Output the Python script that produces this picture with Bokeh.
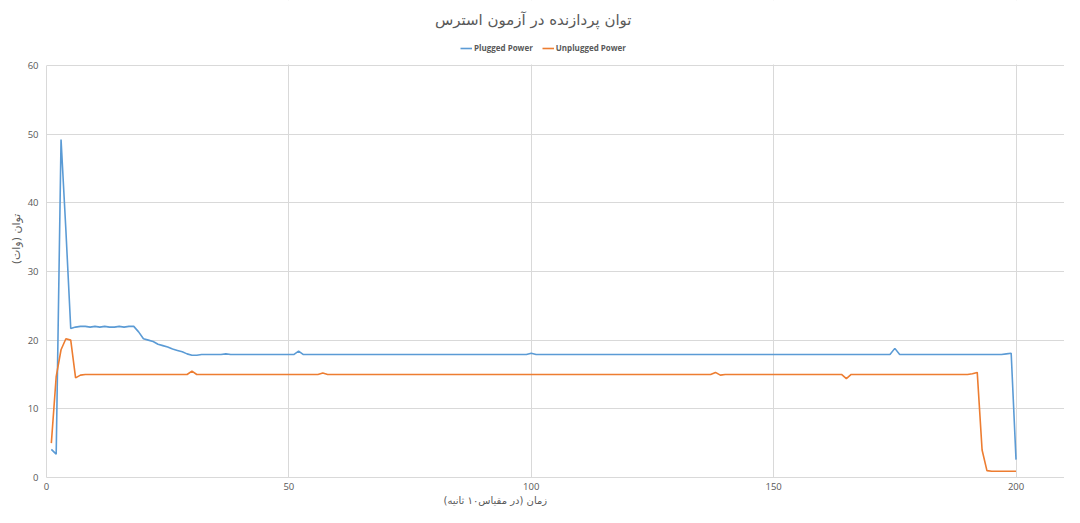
from bokeh.plotting import figure
from bokeh.models import (Range1d, FixedTicker, Legend, LegendItem, Title,
                          Label, BoxAnnotation)
from bokeh.embed import file_html
from bokeh.resources import INLINE

# ---- data ----
time_index = list(range(1, 201))

plugged_power = [
    4.1, 3.4, 49.2, 36.0, 21.7, 21.9, 22.0, 22.0, 21.9, 22.0,
    21.9, 22.0, 21.9, 21.9, 22.0, 21.9, 22.0, 22.0, 21.2, 20.2,
    20.0, 19.8, 19.4, 19.2, 19.0, 18.7, 18.5, 18.3, 18.0, 17.8,
    17.8, 17.9, 17.9, 17.9, 17.9, 17.9, 18.0, 17.9, 17.9, 17.9,
    17.9, 17.9, 17.9, 17.9, 17.9, 17.9, 17.9, 17.9, 17.9, 17.9,
    17.9, 18.4, 17.9, 17.9, 17.9, 17.9, 17.9, 17.9, 17.9, 17.9,
    17.9, 17.9, 17.9, 17.9, 17.9, 17.9, 17.9, 17.9, 17.9, 17.9,
    17.9, 17.9, 17.9, 17.9, 17.9, 17.9, 17.9, 17.9, 17.9, 17.9,
    17.9, 17.9, 17.9, 17.9, 17.9, 17.9, 17.9, 17.9, 17.9, 17.9,
    17.9, 17.9, 17.9, 17.9, 17.9, 17.9, 17.9, 17.9, 17.9, 18.1,
    17.9, 17.9, 17.9, 17.9, 17.9, 17.9, 17.9, 17.9, 17.9, 17.9,
    17.9, 17.9, 17.9, 17.9, 17.9, 17.9, 17.9, 17.9, 17.9, 17.9,
    17.9, 17.9, 17.9, 17.9, 17.9, 17.9, 17.9, 17.9, 17.9, 17.9,
    17.9, 17.9, 17.9, 17.9, 17.9, 17.9, 17.9, 17.9, 17.9, 17.9,
    17.9, 17.9, 17.9, 17.9, 17.9, 17.9, 17.9, 17.9, 17.9, 17.9,
    17.9, 17.9, 17.9, 17.9, 17.9, 17.9, 17.9, 17.9, 17.9, 17.9,
    17.9, 17.9, 17.9, 17.9, 17.9, 17.9, 17.9, 17.9, 17.9, 17.9,
    17.9, 17.9, 17.9, 17.9, 18.8, 17.9, 17.9, 17.9, 17.9, 17.9,
    17.9, 17.9, 17.9, 17.9, 17.9, 17.9, 17.9, 17.9, 17.9, 17.9,
    17.9, 17.9, 17.9, 17.9, 17.9, 17.9, 17.9, 18.0, 18.1, 2.6,
]

unplugged_power = [
    5.0, 14.7, 18.6, 20.2, 20.0, 14.5, 14.9, 15.0, 15.0, 15.0,
    15.0, 15.0, 15.0, 15.0, 15.0, 15.0, 15.0, 15.0, 15.0, 15.0,
    15.0, 15.0, 15.0, 15.0, 15.0, 15.0, 15.0, 15.0, 15.0, 15.5,
    15.0, 15.0, 15.0, 15.0, 15.0, 15.0, 15.0, 15.0, 15.0, 15.0,
    15.0, 15.0, 15.0, 15.0, 15.0, 15.0, 15.0, 15.0, 15.0, 15.0,
    15.0, 15.0, 15.0, 15.0, 15.0, 15.0, 15.2, 15.0, 15.0, 15.0,
    15.0, 15.0, 15.0, 15.0, 15.0, 15.0, 15.0, 15.0, 15.0, 15.0,
    15.0, 15.0, 15.0, 15.0, 15.0, 15.0, 15.0, 15.0, 15.0, 15.0,
    15.0, 15.0, 15.0, 15.0, 15.0, 15.0, 15.0, 15.0, 15.0, 15.0,
    15.0, 15.0, 15.0, 15.0, 15.0, 15.0, 15.0, 15.0, 15.0, 15.0,
    15.0, 15.0, 15.0, 15.0, 15.0, 15.0, 15.0, 15.0, 15.0, 15.0,
    15.0, 15.0, 15.0, 15.0, 15.0, 15.0, 15.0, 15.0, 15.0, 15.0,
    15.0, 15.0, 15.0, 15.0, 15.0, 15.0, 15.0, 15.0, 15.0, 15.0,
    15.0, 15.0, 15.0, 15.0, 15.0, 15.0, 15.0, 15.3, 14.9, 15.0,
    15.0, 15.0, 15.0, 15.0, 15.0, 15.0, 15.0, 15.0, 15.0, 15.0,
    15.0, 15.0, 15.0, 15.0, 15.0, 15.0, 15.0, 15.0, 15.0, 15.0,
    15.0, 15.0, 15.0, 15.0, 14.4, 15.0, 15.0, 15.0, 15.0, 15.0,
    15.0, 15.0, 15.0, 15.0, 15.0, 15.0, 15.0, 15.0, 15.0, 15.0,
    15.0, 15.0, 15.0, 15.0, 15.0, 15.0, 15.0, 15.0, 15.0, 15.0,
    15.1, 15.3, 4.0, 1.0, 0.9, 0.9, 0.9, 0.9, 0.9, 0.9,
]

x_ticks = [0, 50, 100, 150, 200]
y_ticks = [0, 10, 20, 30, 40, 50, 60]
series_names = ["Plugged Power", "Unplugged Power"]
series_colors = ["#5B9BD5", "#ED7D31"]

title_text = "توان پردازنده در آزمون استرس"
x_label = "زمان (در مقیاس۱۰ ثانیه)"
y_label = "توان (وات)"

TEXT = "#595959"
GRID = "#D9D9D9"
FA_FONT = "DejaVu Sans"
LAT_FONT = "Open Sans"

# the frame reaches the top of the figure so that the title and legend
# can sit above the 0-60 value area
Y_TOP = 69.45

p = figure(
    width=1064, height=507,
    output_backend="svg", toolbar_location=None,
    x_range=Range1d(0, 210), y_range=Range1d(0, Y_TOP),
    min_border_left=46, min_border_right=0,
    min_border_top=0, min_border_bottom=30,
)
p.outline_line_color = None
p.background_fill_color = "white"
p.border_fill_color = "white"

# grids
p.xgrid.ticker = FixedTicker(ticks=x_ticks)
p.ygrid.ticker = FixedTicker(ticks=y_ticks)
p.xgrid.grid_line_color = GRID
p.ygrid.grid_line_color = GRID

# hide the vertical grid lines above the top value tick
p.add_layout(BoxAnnotation(bottom=y_ticks[-1] + 0.12, fill_color="white",
                           fill_alpha=1.0, line_alpha=0, level="underlay"))

r1 = p.line(time_index, plugged_power, line_color=series_colors[0], line_width=1.6)
r2 = p.line(time_index, unplugged_power, line_color=series_colors[1], line_width=1.6)

# axes
for ax in (p.xaxis[0], p.yaxis[0]):
    ax.axis_line_color = GRID
    ax.major_tick_line_color = None
    ax.minor_tick_line_color = None
    ax.major_label_text_font = LAT_FONT
    ax.major_label_text_font_size = "9.5px"
    ax.major_label_text_color = TEXT
    ax.major_tick_out = 0
    ax.major_tick_in = 0

p.xaxis.ticker = FixedTicker(ticks=x_ticks)
p.yaxis.ticker = FixedTicker(ticks=y_ticks)
p.yaxis.bounds = (y_ticks[0], y_ticks[-1])
p.xaxis.major_label_standoff = 5
p.yaxis.major_label_standoff = 8

# axis titles
p.add_layout(Title(text=x_label, align="left", offset=397,
                   text_font=FA_FONT, text_font_size="10px",
                   text_font_style="normal", text_color=TEXT,
                   standoff=0), "below")
p.add_layout(Title(text=y_label, align="center",
                   text_font=FA_FONT, text_font_size="11px",
                   text_font_style="normal", text_color=TEXT,
                   standoff=4), "left")

# chart title
p.add_layout(Label(x=100.4, y=66.55, text=title_text,
                   text_align="center", text_baseline="middle",
                   text_font=FA_FONT, text_font_size="15px",
                   text_color=TEXT))

legend = Legend(
    items=[LegendItem(label=series_names[0], renderers=[r1]),
           LegendItem(label=series_names[1], renderers=[r2])],
    orientation="horizontal", location=(414, 424),
    border_line_color=None, background_fill_alpha=0,
    label_text_font=LAT_FONT, label_text_font_size="8px",
    label_text_font_style="bold", label_text_color=TEXT,
    glyph_width=12, glyph_height=10, label_standoff=2, spacing=9,
    padding=0, margin=0,
)
p.add_layout(legend, "center")

open("out.html", "w").write(file_html(p, INLINE))
